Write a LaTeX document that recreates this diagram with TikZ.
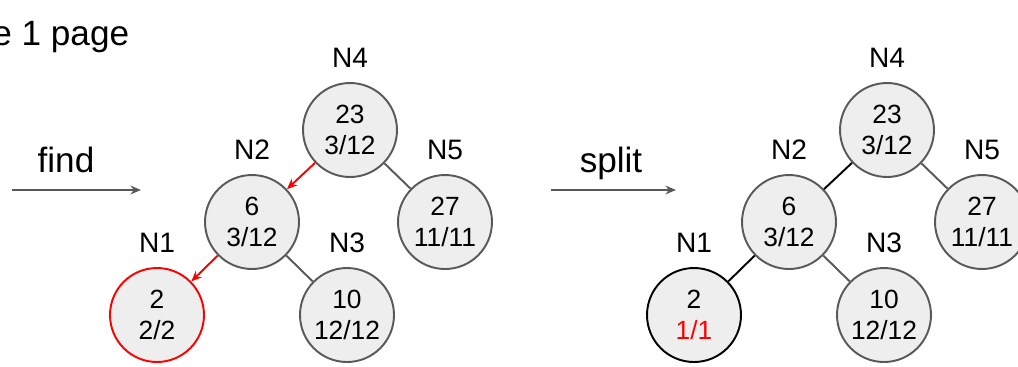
\documentclass[tikz,border=0pt]{standalone}
\usepackage{fontspec}
\setmainfont{Liberation Sans}
\usetikzlibrary{arrows.meta,positioning}
\definecolor{slate}{rgb}{0.35, 0.35, 0.35}
\definecolor{ashfill}{rgb}{0.933, 0.933, 0.933}
\definecolor{scarlet}{rgb}{1, 0, 0}

\begin{document}
\begin{tikzpicture}[x=0.02cm,y=-0.02cm]
	% Frame of the picture.
	\useasboundingbox (0,0) rectangle (1018,366);
	\clip (0,0) rectangle (1018,366);

	\tikzstyle{page}=[circle,draw=slate,fill=ashfill,line width=1.1pt,minimum size=1.88cm,inner sep=0pt,align=center,font=\fontsize{15}{17.6}\selectfont]
	\tikzstyle{page name}=[inner sep=0pt,font=\fontsize{16}{19}\selectfont]
	\tikzstyle{big text}=[inner sep=0pt,anchor=base,font=\fontsize{20}{24}\selectfont]
	\tikzstyle{link}=[draw=slate,line width=1.1pt]
	\tikzstyle{step arrow}=[draw=slate,line width=1.1pt,-{Stealth[length=6pt,width=5pt]}]
	\tikzstyle{path arrow}=[draw=scarlet,line width=1.1pt,-{Stealth[length=6pt,width=5pt]}]

	\node (title) [big text,anchor=base west] at (-8,45) {e 1 page};

	% Draw the search.
	\coordinate (f0) at (12,190);
	\coordinate (f1) at (141,190);
	\draw [step arrow] (f0) -- (f1);
	\node (find) [big text] at (66,172) {find};

	\node (a4) [page] at (350,130) {23\\3/12};
	\node (a2) [page] at (252,222) {6\\3/12};
	\node (a5) [page] at (445,222) {27\\11/11};
	\node (a1) [page,draw=scarlet] at (157,315) {2\\2/2};
	\node (a3) [page] at (347,315) {10\\12/12};
	\foreach \n in {1,...,5}
		\node [page name,above=2.8mm of a\n] {N\n};

	\draw [path arrow] (a4) -- (a2);
	\draw [path arrow] (a2) -- (a1);
	\draw [link] (a4) -- (a5);
	\draw [link] (a2) -- (a3);

	% Draw the tree after the split.
	\pgfmathsetmacro\Dx{537};
	\coordinate (s0) at (551,190);
	\coordinate (s1) at (676,190);
	\draw [step arrow] (s0) -- (s1);
	\node (split) [big text] at (611,172) {split};

	\node (b4) [page] at (350+\Dx,130) {23\\3/12};
	\node (b2) [page] at (252+\Dx,222) {6\\3/12};
	\node (b5) [page] at (445+\Dx,222) {27\\11/11};
	\node (b1) [page,draw=black] at (157+\Dx,315) {2\\\textcolor{scarlet}{1/1}};
	\node (b3) [page] at (347+\Dx,315) {10\\12/12};
	\foreach \n in {1,...,5}
		\node [page name,above=2.8mm of b\n] {N\n};

	\draw [link,draw=black] (b4) -- (b2);
	\draw [link,draw=black] (b2) -- (b1);
	\draw [link] (b4) -- (b5);
	\draw [link] (b2) -- (b3);
\end{tikzpicture}
\end{document}
